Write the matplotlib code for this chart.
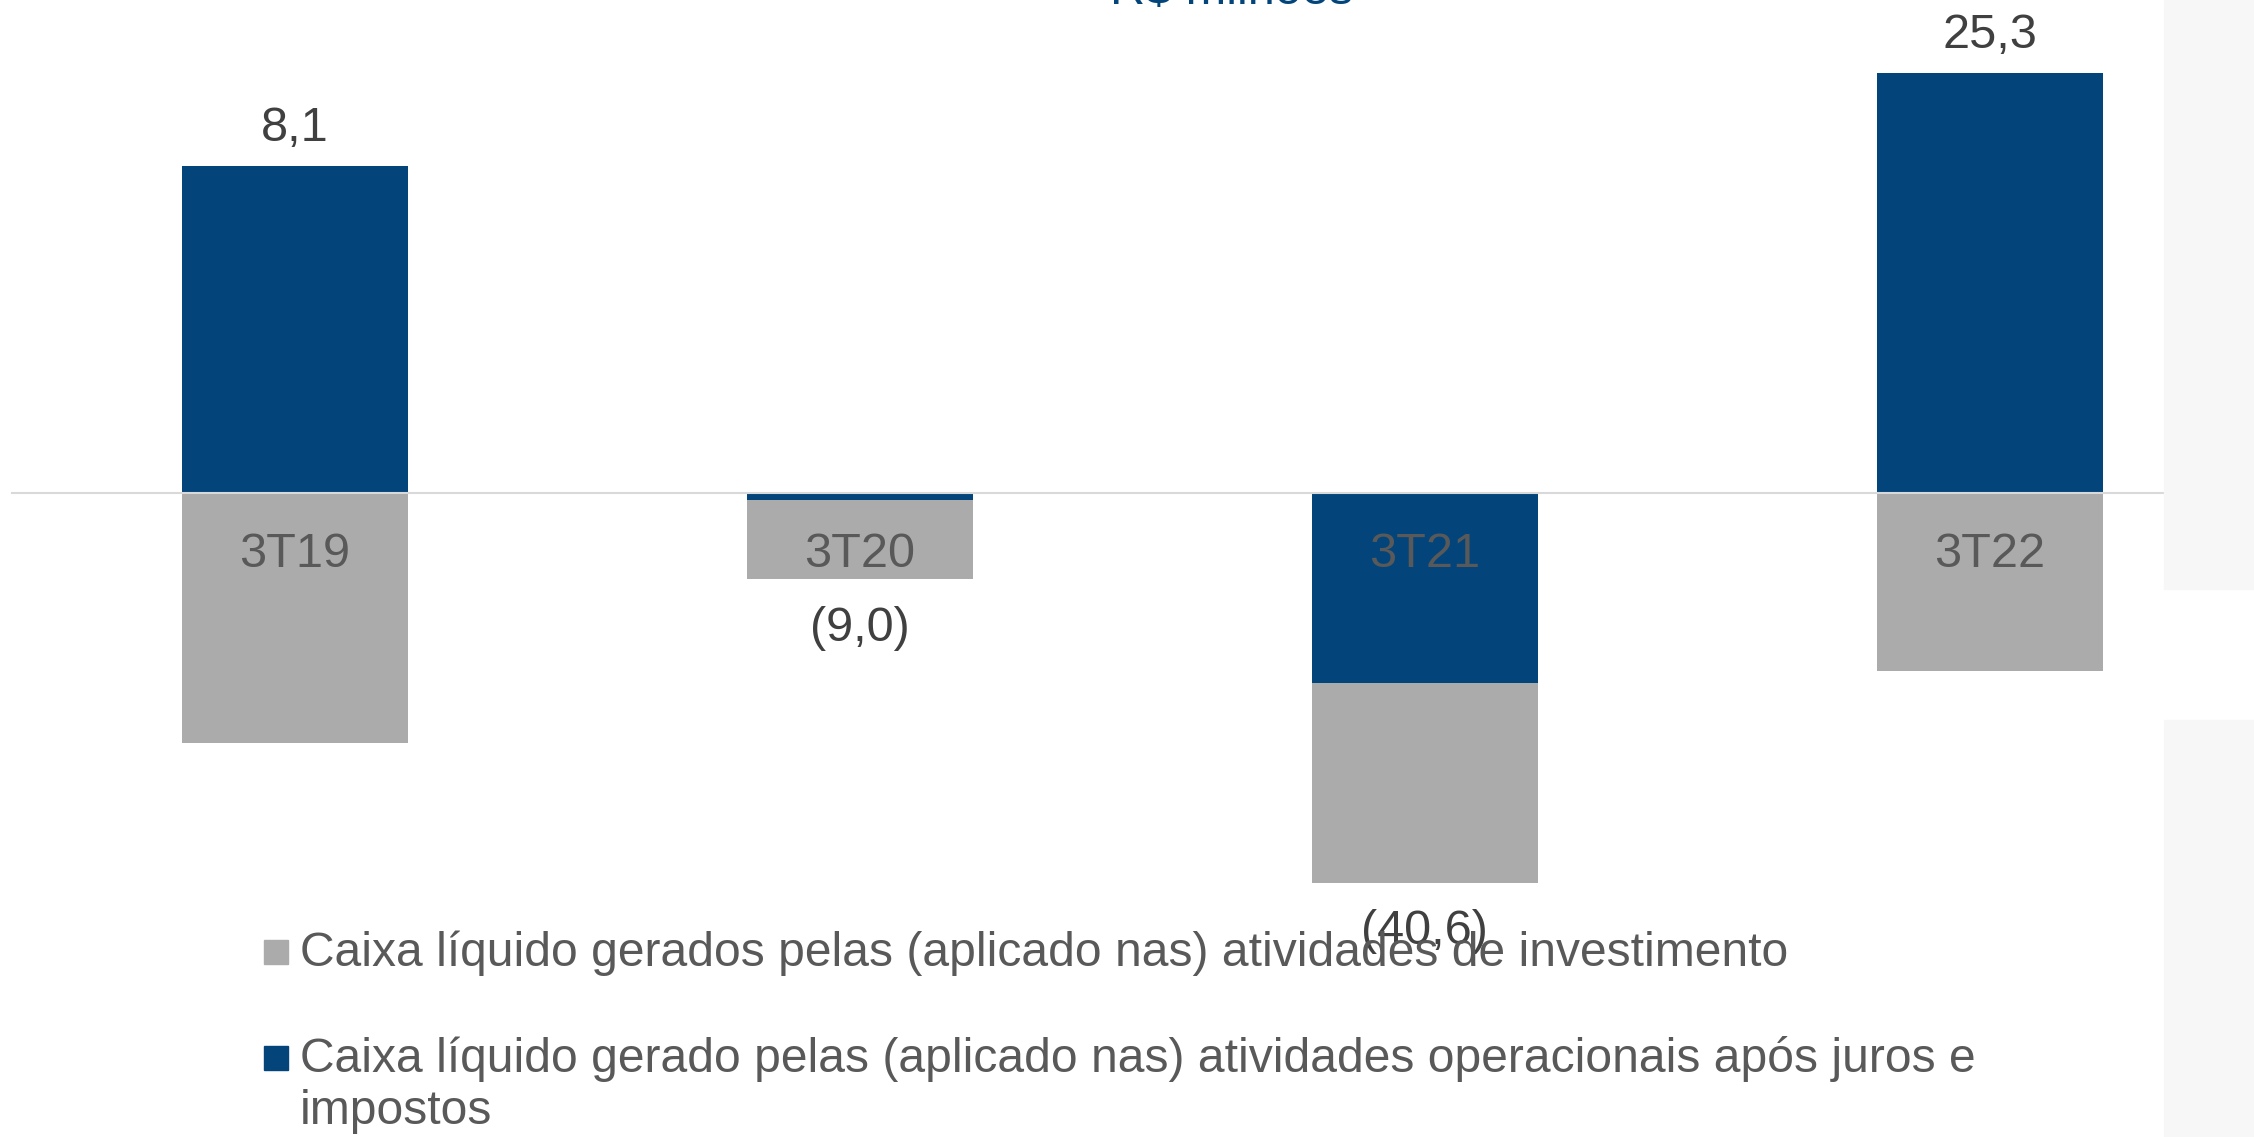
import matplotlib
matplotlib.use("Agg")
import matplotlib.pyplot as plt
from matplotlib.patches import Rectangle

plt.rcParams['font.family'] = ['Liberation Sans', 'DejaVu Sans']

categories = ['3T19', '3T20', '3T21', '3T22']
operacional = [34.1, -0.7, -19.8, 43.8]   # R$ milhões, after juros e impostos
investimento = [-26.0, -8.3, -20.8, -18.5]
series_labels = [
    'Caixa líquido gerados pelas (aplicado nas) atividades de investimento',
    'Caixa líquido gerado pelas (aplicado nas) atividades operacionais após juros e\nimpostos',
]
title = 'R$ milhões'

NAVY = '#03457b'
GRAY = '#ababab'

W, H = 2254, 1137
fig = plt.figure(figsize=(W / 100, H / 100), dpi=100)

# light gray side panels on the right
for y0, y1 in [(0, 589), (720, H)]:
    fig.patches.append(Rectangle((2164 / W, 1 - y1 / H), 1 - 2164 / W, (y1 - y0) / H,
                                 transform=fig.transFigure, color='#f7f7f7', zorder=0))

ax = fig.add_axes([12 / W, 0, 1 - 12 / W, 1])
ax.patch.set_alpha(0)
ax.set_axisbelow(False)

x = list(range(len(categories)))
ax.bar(x, operacional, width=0.4, color=NAVY, zorder=2)
inv_bottom = [min(o, 0) if v < 0 else max(o, 0) for o, v in zip(operacional, investimento)]
ax.bar(x, investimento, width=0.4, bottom=inv_bottom, color=GRAY, zorder=2)

ax.set_xlim(-0.5, 3.467)
ax.set_ylim(-(H - 493) / 9.6, 493 / 9.6)

for s in ['top', 'right', 'left']:
    ax.spines[s].set_visible(False)
ax.spines['bottom'].set_position(('data', 0))
ax.spines['bottom'].set_color('#d9d9d9')
ax.spines['bottom'].set_linewidth(1.5)
ax.set_yticks([])
ax.set_xticks(x, categories)
ax.tick_params(axis='x', length=0, pad=28, labelsize=35, labelcolor='#595959')

# net totals above / below the stacks
for i, (o, v) in enumerate(zip(operacional, investimento)):
    total = round(o + v, 1)
    txt = f'{abs(total):.1f}'.replace('.', ',')
    if total >= 0:
        top = max(o, 0) + max(v, 0)
        ax.annotate(txt, (i, top), xytext=(0, 18), textcoords='offset points',
                    ha='center', va='baseline', fontsize=35, color='#404040')
    else:
        bot = min(o, 0) + min(v, 0)
        ax.annotate(f'({txt})', (i, bot), xytext=(0, -19), textcoords='offset points',
                    ha='center', va='top', fontsize=35, color='#404040')

fig.text(1232 / W, 1 - 4 / H, title, ha='center', va='baseline', fontsize=35, color=NAVY)

# legend, drawn by hand so the marker sits on the first text line
for label, color, box_top, last_base in zip(series_labels, [GRAY, NAVY], [940, 1046], [966, 1124]):
    fig.patches.append(Rectangle((264 / W, 1 - (box_top + 24) / H), 24 / W, 24 / H,
                                 transform=fig.transFigure, color=color))
    fig.text(300 / W, 1 - last_base / H, label, ha='left', va='baseline', fontsize=34.6,
             color='#595959', linespacing=1.2)

fig.savefig('out.png', dpi=100)
